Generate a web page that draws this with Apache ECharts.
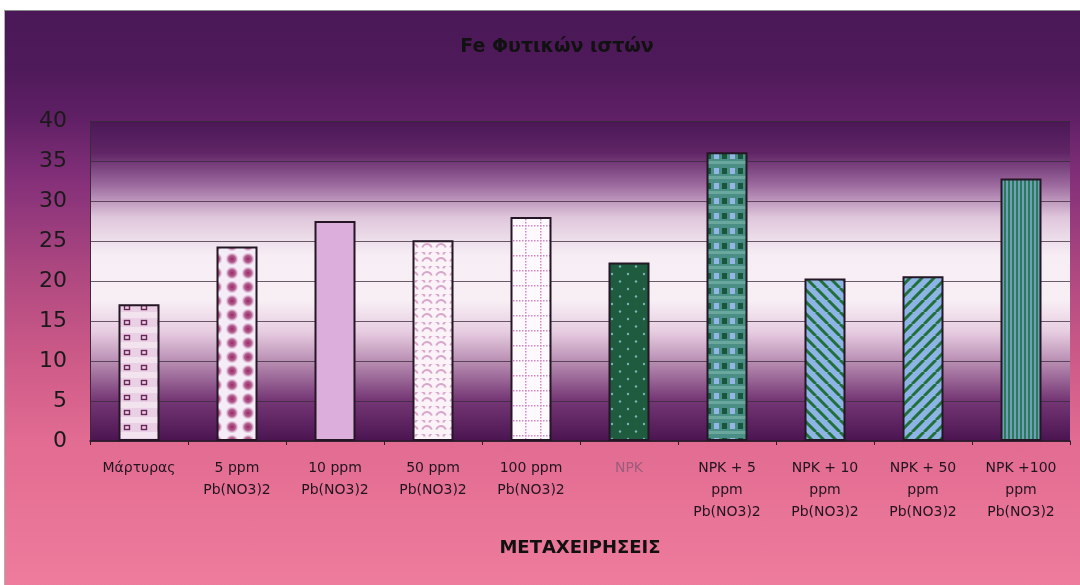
<!DOCTYPE html>
<html>
<head>
<meta charset="utf-8">
<script src="https://cdn.jsdelivr.net/npm/echarts@6/dist/echarts.min.js"></script>
<style>
  html, body { margin: 0; padding: 0; background: #ffffff; }
  #frame {
    position: absolute; left: 4px; top: 10px; width: 1076px; height: 575px;
    border-top: 1px solid #8a8a8a; border-left: 1px solid #b0b0b0;
    background: linear-gradient(to bottom, #4a1857 0%, #4f1a5a 10%, #5e1f64 18%, #86317a 30%, #ad4780 45%, #cc5a88 60%, #e26c92 75%, #ee7c9c 100%);
  }
  #chart { position: absolute; left: 0; top: 0; width: 1080px; height: 585px; }
</style>
</head>
<body>
<div id="frame"></div>
<div id="chart"></div>
<script>
// Treatments and measured Fe content of plant tissue
const categories = [
  'Μάρτυρας',
  '5 ppm\nPb(NO3)2',
  '10 ppm\nPb(NO3)2',
  '50 ppm\nPb(NO3)2',
  '100 ppm\nPb(NO3)2',
  'NPK',
  'NPK + 5\nppm\nPb(NO3)2',
  'NPK + 10\nppm\nPb(NO3)2',
  'NPK + 50\nppm\nPb(NO3)2',
  'NPK +100\nppm\nPb(NO3)2'
];
const feValues = [17.1, 24.3, 27.5, 25.1, 28.0, 22.3, 36.1, 20.3, 20.6, 32.8];
const yTicks = [0, 5, 10, 15, 20, 25, 30, 35, 40];

const chartTitle = 'Fe Φυτικών ιστών';
const xTitle = 'ΜΕΤΑΧΕΙΡΗΣΕΙΣ';

const FONT = 'DejaVu Sans, Liberation Sans, Arial, sans-serif';

// small canvas tiles used as repeating fills for the bars
function tile(w, h, draw) {
  const c = document.createElement('canvas');
  c.width = w; c.height = h;
  const g = c.getContext('2d');
  draw(g, w, h);
  return c;
}
const fills = [
  // open squares
  tile(17, 15, (g, w, h) => {
    g.fillStyle = '#f3e3ef'; g.fillRect(0, 0, w, h);
    g.fillStyle = '#ead0e4'; g.fillRect(0, 3, w, 9);
    g.strokeStyle = '#6b2458'; g.lineWidth = 1.4;
    g.strokeRect(5.5, 5.5, 5, 4);
  }),
  // soft magenta dots
  tile(16, 14, (g, w, h) => {
    g.fillStyle = '#f4ecf6'; g.fillRect(0, 0, w, h);
    const r = g.createRadialGradient(8, 7, 0, 8, 7, 6.5);
    r.addColorStop(0, '#952766'); r.addColorStop(0.55, 'rgba(160,50,110,0.75)'); r.addColorStop(1, 'rgba(200,120,170,0)');
    g.fillStyle = r; g.fillRect(0, 0, w, h);
  }),
  // plain lavender
  tile(4, 4, (g, w, h) => { g.fillStyle = '#dcaedb'; g.fillRect(0, 0, w, h); }),
  // pale scales
  tile(14, 14, (g, w, h) => {
    g.fillStyle = '#fbf3f8'; g.fillRect(0, 0, w, h);
    g.strokeStyle = '#d9a6ca'; g.lineWidth = 2;
    g.beginPath(); g.arc(7, 11, 5, Math.PI * 1.1, Math.PI * 1.9); g.stroke();
    g.beginPath(); g.arc(0, 4, 5, Math.PI * 1.1, Math.PI * 1.9); g.stroke();
    g.beginPath(); g.arc(14, 4, 5, Math.PI * 1.1, Math.PI * 1.9); g.stroke();
  }),
  // dotted grid
  tile(15, 15, (g, w, h) => {
    g.fillStyle = '#fdf9fc'; g.fillRect(0, 0, w, h);
    g.fillStyle = '#d487c6';
    for (let i = 0; i < 15; i += 3) { g.fillRect(i, 0, 1.5, 1.5); g.fillRect(0, i, 1.5, 1.5); }
  }),
  // dark green with dots
  tile(16, 15, (g, w, h) => {
    g.fillStyle = '#1f5b3e'; g.fillRect(0, 0, w, h);
    g.fillStyle = '#74b4b8';
    g.beginPath(); g.arc(4, 4, 1.2, 0, Math.PI * 2); g.fill();
    g.beginPath(); g.arc(12, 11.5, 1.2, 0, Math.PI * 2); g.fill();
  }),
  // plaid
  tile(16, 15, (g, w, h) => {
    g.fillStyle = '#4b8e86'; g.fillRect(0, 0, w, h);
    g.fillStyle = '#6aa89e'; g.fillRect(0, 11, w, 3);
    g.fillStyle = '#17563a'; g.fillRect(2, 3, 5, 6);
    g.fillStyle = '#93b6e6'; g.fillRect(10, 3, 5, 6);
  }),
  // stripes down to the right
  tile(12, 12, (g, w, h) => {
    g.fillStyle = '#8db4e4'; g.fillRect(0, 0, w, h);
    g.strokeStyle = '#20703c'; g.lineWidth = 3;
    for (const k of [-12, 0, 12]) { g.beginPath(); g.moveTo(k, 0); g.lineTo(k + 12, 12); g.stroke(); }
  }),
  // stripes up to the right
  tile(12, 12, (g, w, h) => {
    g.fillStyle = '#8db4e4'; g.fillRect(0, 0, w, h);
    g.strokeStyle = '#20703c'; g.lineWidth = 3;
    for (const k of [-12, 0, 12]) { g.beginPath(); g.moveTo(k, 12); g.lineTo(k + 12, 0); g.stroke(); }
  }),
  // fine vertical stripes
  tile(4, 4, (g, w, h) => {
    g.fillStyle = '#6f9fb6'; g.fillRect(0, 0, w, h);
    g.fillStyle = '#2c7a5c'; g.fillRect(0, 0, 2, h);
  })
];

const chart = echarts.init(document.getElementById('chart'), null, { renderer: 'canvas' });

const plotBg = new echarts.graphic.LinearGradient(0, 0, 0, 1, [
  { offset: 0, color: '#4a1855' },
  { offset: 0.1, color: '#602566' },
  { offset: 0.2, color: '#9c6a9e' },
  { offset: 0.3, color: '#dfc6db' },
  { offset: 0.42, color: '#f6eef4' },
  { offset: 0.56, color: '#f8eff5' },
  { offset: 0.66, color: '#e6cce0' },
  { offset: 0.76, color: '#b488ae' },
  { offset: 0.87, color: '#763876' },
  { offset: 1, color: '#4a1450' }
]);

chart.setOption({
  animation: false,
  backgroundColor: 'transparent',
  title: {
    text: chartTitle,
    left: 552, top: 33, textAlign: 'center',
    textStyle: { fontFamily: FONT, fontWeight: 'bold', fontSize: 19, color: '#111111' }
  },
  grid: {
    left: 90, right: 10, top: 121, bottom: 144,
    show: true, backgroundColor: plotBg, borderWidth: 0
  },
  xAxis: {
    type: 'category',
    data: categories,
    name: xTitle,
    nameLocation: 'middle',
    nameGap: 98,
    nameTextStyle: { fontFamily: FONT, fontWeight: 'bold', fontSize: 18, color: '#111111' },
    axisLine: { show: true, lineStyle: { color: '#2a1a2a', width: 1.5 } },
    axisTick: { show: true, length: 4, lineStyle: { color: '#2a1a2a' } },
    axisLabel: {
      interval: 0,
      margin: 16,
      fontFamily: FONT,
      fontSize: 14,
      lineHeight: 22,
      color: (v, i) => (i === 5 ? '#9c5c7c' : '#22141f')
    }
  },
  yAxis: {
    type: 'value',
    min: yTicks[0], max: yTicks[yTicks.length - 1], interval: 5,
    axisLine: { show: true, lineStyle: { color: '#3a2a3a', width: 1 } },
    axisTick: { show: false },
    axisLabel: {
      margin: 23,
      fontFamily: FONT,
      fontSize: 22,
      color: '#1a1a1a'
    },
    splitLine: { show: true, lineStyle: { color: '#3a2a3a', width: 1, opacity: 0.75 } }
  },
  series: [{
    type: 'bar',
    barWidth: 41,
    data: feValues.map((v, i) => ({
      value: v,
      itemStyle: { color: { image: fills[i], repeat: 'repeat' } }
    })),
    itemStyle: { borderColor: '#241624', borderWidth: 2 }
  }]
});
</script>
</body>
</html>
